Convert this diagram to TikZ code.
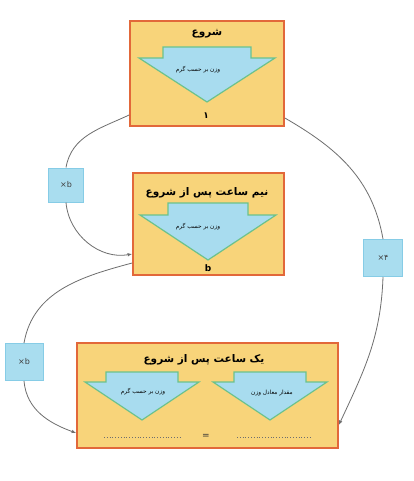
\documentclass[tikz,border=0pt]{standalone}
\usepackage{fontspec}
\newfontfamily\arabicfont[Script=Arabic]{DejaVu Sans}
\newfontfamily\plainsans{DejaVu Sans}
\TeXXeTstate=1
\usetikzlibrary{arrows.meta}
\definecolor{boxfill}{HTML}{F8D47A}
\definecolor{boxline}{HTML}{E2683A}
\definecolor{arrfill}{HTML}{A8DCEF}
\definecolor{arrline}{HTML}{6CC28C}
\definecolor{tagfill}{HTML}{A9DDEF}
\definecolor{tagline}{HTML}{86CCE6}
\definecolor{wire}{HTML}{6E6E6E}
\begin{document}
\begin{tikzpicture}[x=1pt,y=1pt,
  stagebox/.style={draw=boxline, line width=1.7pt, fill=boxfill, inner sep=0pt},
  downarrow/.style={draw=arrline, line width=1.2pt, fill=arrfill, line join=miter},
  tagbox/.style={draw=tagline, line width=1pt, fill=tagfill, inner sep=0pt, text=black!75, font=\plainsans\fontsize{8}{9}\selectfont},
  titletext/.style={font=\arabicfont\bfseries\fontsize{10.5}{12}\selectfont, inner sep=0pt},
  smalltext/.style={font=\arabicfont\fontsize{5.8}{7}\selectfont, inner sep=0pt},
  valtext/.style={font=\arabicfont\bfseries\fontsize{9}{10}\selectfont, inner sep=0pt},
  wirepath/.style={draw=wire, line width=0.8pt},
  tip/.style={-{Latex[length=4.5pt,width=3.5pt]}}
]
\useasboundingbox (0,0) rectangle (413,-481);
\fill[white] (0,0) rectangle (413,-481);

% stage boxes
\node[stagebox, minimum width=154, minimum height=105] (top) at (207,-73.5) {};
\node[stagebox, minimum width=151, minimum height=102] (mid) at (208.5,-224) {};
\node[stagebox, minimum width=261, minimum height=105] (bot) at (207.5,-395.5) {};

% down arrows
\path[downarrow] (163,-47) -- (251,-47) -- (251,-58) -- (275,-58) -- (207,-102) -- (139,-58) -- (163,-58) -- cycle;
\path[downarrow] (168,-203) -- (248,-203) -- (248,-215) -- (276,-215) -- (208,-260) -- (140,-215) -- (168,-215) -- cycle;
\path[downarrow] (106,-372) -- (178,-372) -- (178,-382) -- (199,-382) -- (142,-420) -- (85,-382) -- (106,-382) -- cycle;
\path[downarrow] (234,-372) -- (306,-372) -- (306,-382) -- (327,-382) -- (270,-420) -- (213,-382) -- (234,-382) -- cycle;

% texts
\node[titletext] (t1) at (207,-34) {\beginR شروع\endR};
\node[smalltext] (s1) at (198,-70) {\beginR وزن بر حسب گرم\endR};
\node[valtext] (v1) at (206,-116) {۱};

\node[titletext] (t2) at (207,-193) {\beginR نیم ساعت پس از شروع\endR};
\node[smalltext] (s2) at (198,-227) {\beginR وزن بر حسب گرم\endR};
\node[valtext, font=\plainsans\bfseries\fontsize{9}{10}\selectfont] (v2) at (208,-268) {b};

\node[titletext] (t3) at (204,-360) {\beginR یک ساعت پس از شروع\endR};
\node[smalltext] (s3) at (143,-392) {\beginR وزن بر حسب گرم\endR};
\node[smalltext] (s4) at (272,-393) {\beginR مقدار معادل وزن\endR};
\node[valtext, font=\plainsans\fontsize{9}{10}\selectfont, text=black!80] (eq) at (206,-436) {=};
\coordinate (d1) at (104,-437);
\coordinate (d2) at (180,-437);
\coordinate (d3) at (237,-437);
\coordinate (d4) at (312,-437);
\draw[wire, line width=0.8pt, dotted] (d1) -- (d2);
\draw[wire, line width=0.8pt, dotted] (d3) -- (d4);

% tags
\node[tagbox, minimum width=35, minimum height=34] (xb1) at (66,-185) {×b};
\node[tagbox, minimum width=38, minimum height=37] (xb2) at (24,-362) {×b};
\node[tagbox, minimum width=39, minimum height=37] (x4) at (383,-258) {×۴};

% connector ends
\coordinate (c1) at (top.west |- 0,-115);
\coordinate (c2) at (mid.west |- 0,-254);
\coordinate (c3) at (mid.west |- 0,-263);
\coordinate (c4) at (bot.west |- 0,-433);
\coordinate (c5) at (top.east |- 0,-118);
\coordinate (c6) at (bot.east |- 0,-425);

\draw[wirepath] (c1) to[out=205, in=80] (xb1.north);
\draw[wirepath, tip] (xb1.south) to[out=-85, in=190] (c2);
\draw[wirepath] (c3) to[out=195, in=80] (xb2.north);
\draw[wirepath, tip] (xb2.south) to[out=-85, in=160] (c4);
\draw[wirepath] (c5) to[out=-30, in=100] (x4.north);
\draw[wirepath, tip] (x4.south) to[out=-92, in=65] (c6);
\end{tikzpicture}
\end{document}
